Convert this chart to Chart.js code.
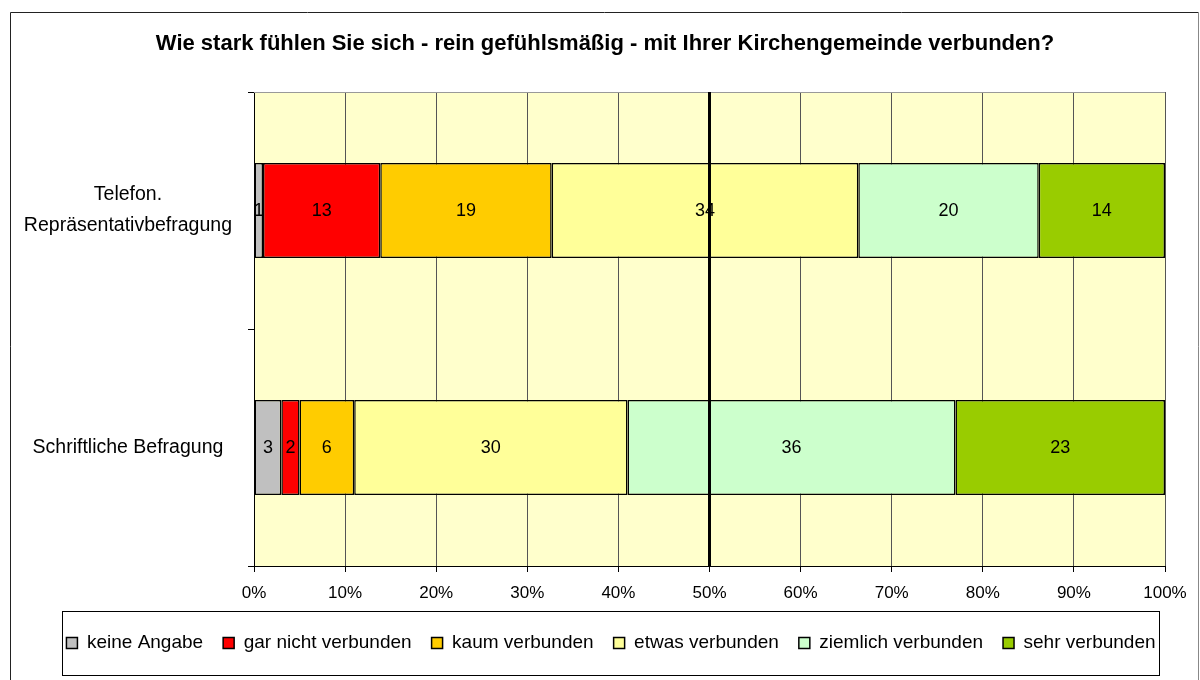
<!DOCTYPE html>
<html lang="de">
<head>
    <meta charset="UTF-8">
    <title>Verbundenheit mit der Kirchengemeinde</title>
    <style>
        body { margin: 0; background: #fff; }
        .chart-box { width: 1200px; height: 680px; }
    </style>
    <script src="https://cdn.jsdelivr.net/npm/chart.js"></script>
</head>
<body>
    <div class="chart-box"><canvas id="chart"></canvas></div>

    <script>
        // Kategorien (y-Achse) und Antwortstufen
        const categories = [['Telefon.', 'Repräsentativbefragung'], 'Schriftliche Befragung'];
        const seriesNames = ['keine Angabe', 'gar nicht verbunden', 'kaum verbunden',
                             'etwas verbunden', 'ziemlich verbunden', 'sehr verbunden'];

        // Werte je Stufe: [Telefon, Schriftlich]
        const keineAngabe = [1, 3];
        const garNicht    = [13, 2];
        const kaum        = [19, 6];
        const etwas       = [34, 30];
        const ziemlich    = [20, 36];
        const sehr        = [14, 23];

        const xTickLabels = ['0%', '10%', '20%', '30%', '40%', '50%', '60%', '70%', '80%', '90%', '100%'];
        const seriesColors = ['#C0C0C0', '#FF0000', '#FFCC00', '#FFFF99', '#CCFFCC', '#99CC00'];

        const FONT = '"Liberation Sans", Arial, sans-serif';
        const allSeries = [keineAngabe, garNicht, kaum, etwas, ziemlich, sehr];

        // 100%-Darstellung: jede Zeile auf ihre Summe normieren
        const rowTotals = categories.map((c, i) => allSeries.reduce((s, arr) => s + arr[i], 0));

        const datasets = allSeries.map((arr, k) => ({
            label: seriesNames[k],
            data: arr.map((v, i) => v / rowTotals[i] * 100),
            rawValues: arr,
            backgroundColor: seriesColors[k],
            borderColor: '#000',
            borderWidth: 1.5,
            borderSkipped: false,
            categoryPercentage: 1.0,
            barPercentage: 0.4
        }));

        // Hintergrund, Rahmen, Beschriftungen der Balken, 50%-Linie, Legendenrahmen
        const decorPlugin = {
            id: 'decor',
            afterLayout(chart) {
                // Titel und Legende etwas nach rechts rücken (wie im Original)
                const t = chart.titleBlock;
                if (t) { t.left = 45; t.right = 1165; t.width = 1120; }
                const lg = chart.legend;
                if (lg) { lg.left = 22; lg.right = 1200; lg.width = 1178; }
            },
            beforeDraw(chart) {
                const { ctx, chartArea } = chart;
                ctx.save();
                ctx.fillStyle = '#fff';
                ctx.fillRect(0, 0, chart.width, chart.height);
                ctx.fillStyle = '#FFFFCC';
                ctx.fillRect(chartArea.left, chartArea.top,
                             chartArea.right - chartArea.left, chartArea.bottom - chartArea.top);
                ctx.restore();
            },
            afterDatasetsDraw(chart) {
                const { ctx, chartArea } = chart;
                ctx.save();
                ctx.font = '18px ' + FONT;
                ctx.fillStyle = '#000';
                ctx.textAlign = 'center';
                ctx.textBaseline = 'middle';
                chart.data.datasets.forEach((ds, di) => {
                    chart.getDatasetMeta(di).data.forEach((bar, i) => {
                        const p = bar.getProps(['x', 'base', 'y'], true);
                        ctx.fillText(String(ds.rawValues[i]), (p.x + p.base) / 2, p.y + 1);
                    });
                });

                // obere Rahmenlinie der Zeichenfläche
                ctx.strokeStyle = '#999';
                ctx.lineWidth = 1;
                ctx.beginPath();
                ctx.moveTo(chartArea.left, chartArea.top + 0.5);
                ctx.lineTo(chartArea.right, chartArea.top + 0.5);
                ctx.stroke();

                // dicke Linie bei 50%
                const mid = chart.scales.x.getPixelForValue(50);
                ctx.strokeStyle = '#000';
                ctx.lineWidth = 3;
                ctx.beginPath();
                ctx.moveTo(mid, chartArea.top);
                ctx.lineTo(mid, chartArea.bottom);
                ctx.stroke();
                ctx.restore();
            },
            afterDraw(chart) {
                const { ctx } = chart;
                const lg = chart.legend;
                ctx.save();
                // äußerer Rahmen
                ctx.strokeStyle = '#222';
                ctx.lineWidth = 1;
                ctx.beginPath();
                ctx.moveTo(10.5, chart.height + 5);
                ctx.lineTo(10.5, 12.5);
                ctx.lineTo(1198.5, 12.5);
                ctx.stroke();
                ctx.strokeStyle = '#888';
                ctx.beginPath();
                ctx.moveTo(1198.5, 12.5);
                ctx.lineTo(1198.5, chart.height + 5);
                ctx.stroke();

                // Legendenrahmen um die Einträge
                if (lg && lg.legendHitBoxes.length) {
                    const boxes = lg.legendHitBoxes;
                    const left = Math.min(...boxes.map(b => b.left)) - 4;
                    const right = Math.max(...boxes.map(b => b.left + b.width)) + 4;
                    const mid = boxes[0].top + boxes[0].height / 2;
                    ctx.strokeStyle = '#000';
                    ctx.strokeRect(Math.round(left) + 0.5, Math.round(mid - 32) + 0.5,
                                   Math.round(right - left), 64);
                }
                ctx.restore();
            }
        };

        new Chart(document.getElementById('chart'), {
            type: 'bar',
            data: { labels: categories, datasets: datasets },
            options: {
                indexAxis: 'y',
                responsive: true,
                maintainAspectRatio: false,
                animation: false,
                layout: { padding: { left: 10, right: 35, top: 0, bottom: 17.5 } },
                scales: {
                    x: {
                        stacked: true,
                        min: 0,
                        max: 100,
                        ticks: {
                            stepSize: 10,
                            color: '#000',
                            padding: 11,
                            font: { family: FONT, size: 17 },
                            callback: (v, i) => xTickLabels[i]
                        },
                        grid: { color: '#555', tickColor: '#000', tickLength: 6, lineWidth: 1 },
                        border: { color: '#000', width: 1 },
                        afterFit: s => { s.height = 47.5; }
                    },
                    y: {
                        stacked: true,
                        ticks: {
                            color: '#000',
                            padding: 16,
                            crossAlign: 'center',
                            font: { family: FONT, size: 19.5, lineHeight: 1.6 }
                        },
                        grid: { drawOnChartArea: false, tickColor: '#000', tickLength: 6, offset: true },
                        border: { color: '#000', width: 1 },
                        afterFit: s => { s.width = 244; }
                    }
                },
                plugins: {
                    title: {
                        display: true,
                        text: 'Wie stark fühlen Sie sich - rein gefühlsmäßig - mit Ihrer Kirchengemeinde verbunden?',
                        color: '#000',
                        font: { family: FONT, size: 22, weight: 'bold' },
                        padding: { top: 31, bottom: 34.6 }
                    },
                    legend: {
                        position: 'bottom',
                        labels: {
                            color: '#000',
                            boxWidth: 11,
                            boxHeight: 11,
                            padding: 20,
                            font: { family: FONT, size: 19 }
                        }
                    },
                    tooltip: { enabled: false }
                }
            },
            plugins: [decorPlugin]
        });
    </script>
</body>
</html>
